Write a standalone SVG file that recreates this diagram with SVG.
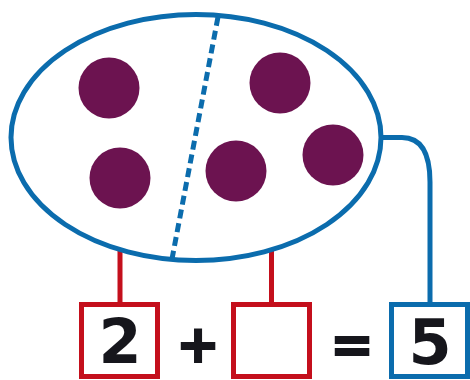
<svg xmlns="http://www.w3.org/2000/svg" width="470" height="380" viewBox="0 0 470 380">
<style>
.blue{fill:none;stroke:#0b6cad;stroke-width:5}
.red{fill:none;stroke:#c40f1c;stroke-width:5}
.dot{fill:#6c1350}
.num{font-family:"DejaVu Sans",sans-serif;font-weight:bold;fill:#16161c;text-anchor:middle}
</style>
<rect width="470" height="380" fill="#fff"/>
<g id="connectors">
<line class="red" x1="120" y1="240" x2="120" y2="305"/>
<line class="red" x1="271.5" y1="240" x2="271.5" y2="305"/>
<path class="blue" d="M378,137.5 H402 C420,137.5 430,152 430,182 V305"/>
</g>
<g id="set">
<ellipse cx="196" cy="137.5" rx="185" ry="123" fill="#fff" stroke="#0b6cad" stroke-width="5"/>
<line x1="218" y1="17" x2="172" y2="259" stroke="#0b6cad" stroke-width="5" stroke-dasharray="9,5"/>
<circle class="dot" cx="109" cy="88" r="30.5"/>
<circle class="dot" cx="120" cy="178" r="30.5"/>
<circle class="dot" cx="280" cy="83" r="30.5"/>
<circle class="dot" cx="236" cy="171" r="30.5"/>
<circle class="dot" cx="333" cy="155" r="30.5"/>
</g>
<g id="box1">
<rect class="red" x="81.5" y="304.5" width="76" height="72"/>
<text class="num" x="120" y="363" font-size="62">2</text>
</g>
<g id="plus">
<text class="num" x="198" y="362" font-size="52" stroke="#16161c" stroke-width="2">+</text>
</g>
<g id="box2">
<rect class="red" x="233.5" y="304.5" width="76" height="72"/>
</g>
<g id="equals">
<text class="num" x="352" y="362" font-size="52" stroke="#16161c" stroke-width="2">=</text>
</g>
<g id="box3">
<rect class="blue" x="391.5" y="304.5" width="76" height="72"/>
<text class="num" x="430" y="364" font-size="62">5</text>
</g>
</svg>
